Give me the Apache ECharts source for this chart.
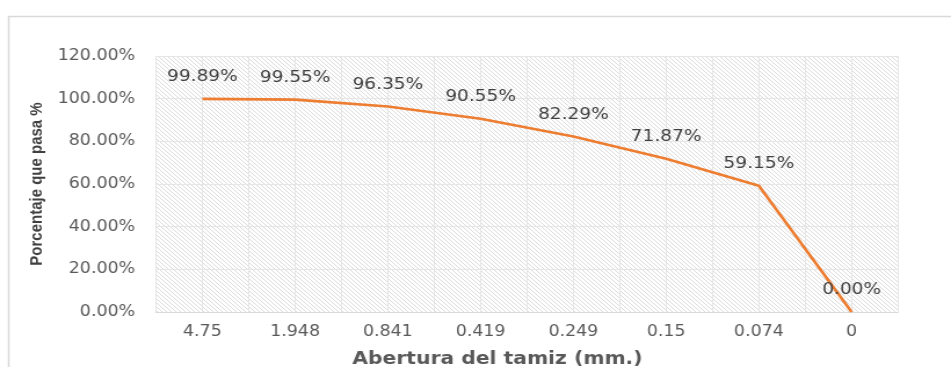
<!DOCTYPE html>
<html>
<head>
<meta charset="utf-8">
<script src="https://cdn.jsdelivr.net/npm/echarts@6/dist/echarts.min.js"></script>
<style>
  html, body { margin: 0; padding: 0; background: #fff; }
  #wrap { width: 951px; height: 367px; overflow: hidden; background: #fff; }
  /* the chart is laid out narrower and stretched horizontally to get its wide lettering */
  #chart { width: 820px; height: 367px; transform: scaleX(1.15976); transform-origin: 0 0; }
</style>
</head>
<body>
<div id="wrap"><div id="chart"></div></div>
<script>
// Sieve openings (mm) and cumulative percentage passing
const categories = ['4.75', '1.948', '0.841', '0.419', '0.249', '0.15', '0.074', '0'];
const passing = [99.89, 99.55, 96.35, 90.55, 82.29, 71.87, 59.15, 0.00];
const yMin = 0, yMax = 120, yStep = 20;

// Two gridline slots per sieve: lines fall on category edges and centres
const halfSlots = categories.flatMap(c => [c + '-a', c + '-b']);

// Diagonal hatch tile for the plot background
function hatchTile() {
  const n = 4;
  const c = document.createElement('canvas');
  c.width = n; c.height = n;
  const ctx = c.getContext('2d');
  ctx.fillStyle = '#ffffff';
  ctx.fillRect(0, 0, n, n);
  ctx.fillStyle = '#dcdcdc';
  for (let i = 0; i < n; i++) ctx.fillRect(i, i, 1, 1);
  return c;
}

const font = 'DejaVu Sans';
const chart = echarts.init(document.getElementById('chart'), null, { renderer: 'canvas' });

chart.setOption({
  animation: false,
  backgroundColor: '#ffffff',
  graphic: [{
    type: 'rect',
    shape: { x: 7.5, y: 16.5, width: 900, height: 400 },
    style: { fill: 'none', stroke: '#d9d9d9', lineWidth: 1.5 },
    silent: true
  }],
  grid: {
    left: 134.5, right: 45.7, top: 56, bottom: 55,
    outerBoundsMode: 'none',
    containLabel: false,
    show: true,
    borderWidth: 0,
    backgroundColor: { image: hatchTile(), repeat: 'repeat' }
  },
  xAxis: [{
    type: 'category',
    data: categories,
    boundaryGap: true,
    name: 'Abertura del tamiz (mm.)',
    nameLocation: 'middle',
    nameGap: 38,
    nameTextStyle: { fontFamily: font, fontSize: 17.5, fontWeight: 'bold', color: '#595959', padding: [0, 51, 0, 0] },
    axisLine: { show: true, lineStyle: { color: '#d9d9d9', width: 1 } },
    axisTick: { show: false },
    axisLabel: { fontFamily: font, fontSize: 15, color: '#595959', margin: 13, interval: 0 },
    splitLine: { show: false }
  }, {
    type: 'category',
    data: halfSlots,
    boundaryGap: true,
    position: 'bottom',
    axisLine: { show: false },
    axisTick: { show: false },
    axisLabel: { show: false, interval: 0 },
    splitLine: { show: true, interval: 0, lineStyle: { color: '#e6e6e6', width: 1 } }
  }],
  yAxis: {
    type: 'value',
    min: yMin, max: yMax, interval: yStep,
    name: 'Porcentaje que pasa %',
    nameLocation: 'middle',
    nameGap: 95,
    nameTextStyle: { fontFamily: 'Liberation Sans', fontSize: 15, fontWeight: 'bold', color: '#404040' },
    axisLine: { show: false },
    axisTick: { show: false },
    axisLabel: {
      fontFamily: font, fontSize: 15, color: '#595959', margin: 18,
      formatter: v => v.toFixed(2) + '%'
    },
    splitLine: { show: true, lineStyle: { color: '#e6e6e6', width: 1 } }
  },
  series: [{
    type: 'line',
    xAxisIndex: 0,
    data: passing,
    showSymbol: true,
    symbol: 'circle',
    symbolSize: 0,
    lineStyle: { color: '#ED7D31', width: 2.6 },
    itemStyle: { color: '#ED7D31' },
    label: {
      show: true,
      position: 'top',
      distance: 14,
      fontFamily: font,
      fontSize: 16,
      color: '#404040',
      formatter: p => p.value.toFixed(2) + '%'
    },
    labelLayout: { hideOverlap: false }
  }]
});
</script>
</body>
</html>
